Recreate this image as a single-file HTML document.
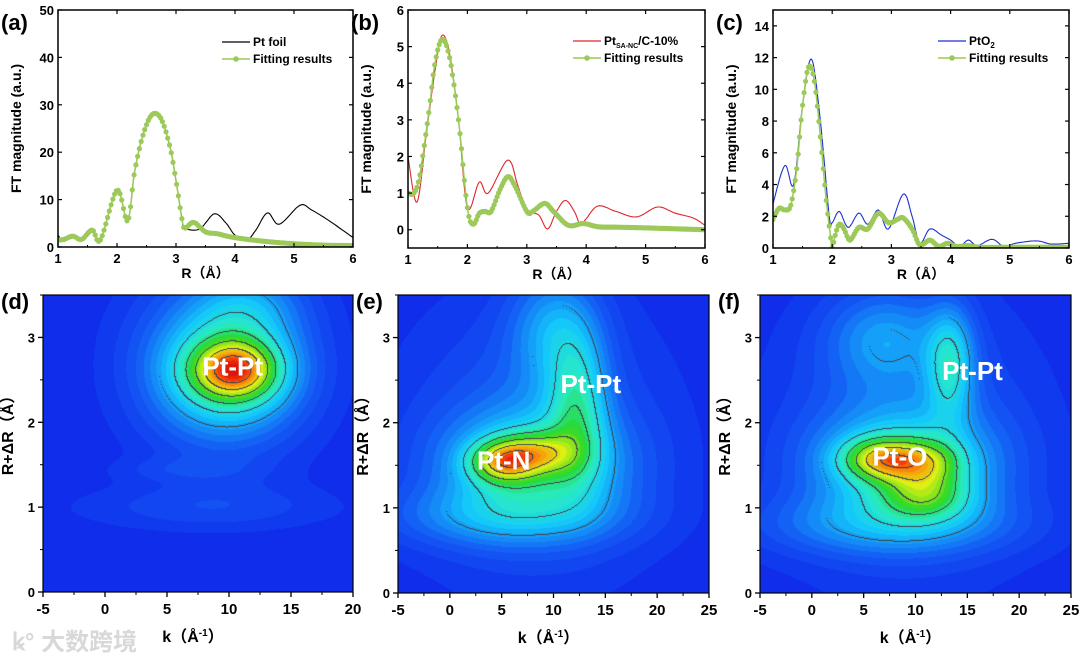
<!DOCTYPE html>
<html><head><meta charset="utf-8">
<style>
html,body{margin:0;padding:0;background:#fff;}
#root{position:relative;width:1080px;height:659px;overflow:hidden;font-family:"Liberation Sans",Arial,sans-serif;}
svg{position:absolute;left:0;top:0;}
canvas{position:absolute;}
.wm{position:absolute;left:12px;top:622px;font-size:24px;color:#d8d8d8;font-family:"Liberation Sans","Noto Sans CJK SC",sans-serif;font-weight:bold;}
</style></head>
<body>
<div id="root">
<canvas id="cd"></canvas>
<canvas id="ce"></canvas>
<canvas id="cf"></canvas>
<svg id="sv" width="1080" height="659"></svg>
<div class="wm">ꝃ° 大数跨境</div>
</div>
<script>
// ---- Panel (a) data ----
const aR = [1.0,1.1,1.25,1.4,1.58,1.72,2.0,2.18,2.3,2.45,2.6,2.75,2.9,3.0,3.1,3.15,3.4,3.65,3.85,4.0,4.2,4.35,4.55,4.75,5.1,5.3,5.6,6.0];
const aFoil = [2.5,1.2,2.3,1.6,3.8,1.5,12,5.5,16,24,28,27,21,14,6,4,3.8,7,5,2.5,1.5,3.5,7.2,4.8,8.8,7.8,5.5,2];
const aFitR = [1.0,1.1,1.25,1.4,1.58,1.72,2.0,2.18,2.3,2.45,2.6,2.75,2.9,3.0,3.1,3.15,3.3,3.5,3.7,3.9,4.1,4.5,5.0,5.5,6.0];
const aFit = [1.5,1.6,2.3,1.6,3.6,1.5,12,5.5,16,24,28,27,21,14,6,4,5.2,3.2,2.8,2.2,1.8,1.2,0.7,0.4,0.3];
// ---- Panel (b) data ----
const bR = [1.0,1.15,1.3,1.45,1.57,1.7,1.85,2.0,2.2,2.35,2.68,2.85,3.0,3.2,3.35,3.5,3.65,3.8,3.9,4.0,4.2,4.5,4.85,5.2,5.5,5.8,6.0];
const bExp = [2.0,0.75,2.5,4.3,5.3,4.8,3.0,0.6,1.3,1.0,1.9,1.2,0.55,0.4,0.02,0.5,0.8,0.5,0.15,0.3,0.65,0.5,0.35,0.62,0.45,0.32,0.12];
const bFitR = [1.0,1.1,1.2,1.35,1.45,1.57,1.7,1.85,2.0,2.1,2.2,2.3,2.4,2.55,2.68,2.8,3.0,3.1,3.3,3.45,3.7,3.95,4.2,4.5,5.0,6.0];
const bFit = [1.0,1.0,1.5,3.2,4.5,5.2,4.7,3.0,0.6,0.15,0.45,0.5,0.5,1.1,1.45,1.2,0.5,0.5,0.72,0.5,0.12,0.17,0.08,0.07,0.05,0.0];
// ---- Panel (c) data ----
const cR = [1.0,1.2,1.35,1.5,1.65,1.8,1.95,2.0,2.12,2.27,2.45,2.6,2.78,2.95,3.2,3.35,3.48,3.65,3.85,4.0,4.15,4.3,4.45,4.7,4.9,5.1,5.45,5.7,6.0];
const cExp = [2.8,5.2,4.0,9,11.9,8,2.0,1.6,2.3,1.3,2.2,1.5,2.4,1.2,3.4,2.0,0.3,1.2,0.8,0.5,0.1,0.5,0.15,0.55,0.1,0.3,0.45,0.25,0.3];
const cFitR = [1.0,1.1,1.2,1.3,1.4,1.5,1.6,1.7,1.8,1.9,1.97,2.0,2.05,2.12,2.2,2.3,2.45,2.6,2.78,2.95,3.1,3.2,3.35,3.48,3.65,3.8,3.95,4.1,4.3,4.5,5.0,6.0];
const cFit = [1.8,2.5,2.4,2.7,5,9,11.4,10.5,7,3,0.8,0,0.8,1.5,1.2,0.5,1.3,1.2,2.2,1.6,1.8,1.9,1.2,0.2,0.5,0.1,0.3,0.1,0.15,0.05,0.05,0.05];
// ---- wavelet blobs: [k, R, amplitude, sigmaK, sigmaR] ----
const dBlobs = [[10.5,2.62,0.42,2.2,0.22],[10,2.6,0.3,3.5,0.4],[9.5,2.7,0.28,5,0.75],[11.5,3.4,0.12,3,0.3],[8,1.0,0.08,8,0.2],[6,1.45,0.05,4,0.1]];
const eBlobs = [[5,1.55,0.42,2.2,0.17],[8.5,1.65,0.28,2.5,0.17],[8,1.5,0.3,6,0.45],[12.3,2.2,0.28,2,0.6],[5,0.9,0.16,8,0.25],[10,3.1,0.2,3,0.5],[8,1.8,0.14,9,1.2]];
const fBlobs = [[6.5,1.58,0.4,2.6,0.17],[11,1.55,0.26,2.5,0.18],[11,1.15,0.26,3,0.2],[13.3,2.7,0.3,1.6,0.45],[9,1.5,0.3,6,0.45],[7,0.8,0.16,9,0.25],[7,3.0,0.18,4,0.4],[9,1.8,0.14,9,1.2]];
const lineTicksA = [0,10,20,30,40,50];
const lineTicksB = [0,1,2,3,4,5,6];
const lineTicksC = [0,2,4,6,8,10,12,14];
const rTicks = [1,2,3,4,5,6];
const kTicksD = [-5,0,5,10,15,20];
const kTicksEF = [-5,0,5,10,15,20,25];
const rdrTicks = [0,1,2,3];

const NS='http://www.w3.org/2000/svg';
const sv=document.getElementById('sv');
function mk(tag,attrs,parent){const e=document.createElementNS(NS,tag);for(const k in attrs)e.setAttribute(k,attrs[k]);(parent||sv).appendChild(e);return e;}
function txt(x,y,s,opt,parent){opt=opt||{};const t=mk('text',{x:x,y:y,'font-size':opt.size||13,'font-weight':opt.w||'bold','text-anchor':opt.anchor||'middle',fill:opt.fill||'#000','font-family':'"Liberation Sans","Noto Sans CJK SC",sans-serif'},parent);if(opt.rot)t.setAttribute('transform','rotate(-90 '+x+' '+y+')');t.textContent=s;return t;}
function dense(xs,ys){const out=[];const n=xs.length;for(let i=0;i<n-1;i++){const x0=xs[Math.max(i-1,0)],x1=xs[i],x2=xs[i+1],x3=xs[Math.min(i+2,n-1)];const y0=ys[Math.max(i-1,0)],y1=ys[i],y2=ys[i+1],y3=ys[Math.min(i+2,n-1)];for(let s=0;s<10;s++){const t=s/10,t2=t*t,t3=t2*t;const f=(a,b,c,d)=>0.5*(2*b+(-a+c)*t+(2*a-5*b+4*c-d)*t2+(-a+3*b-3*c+d)*t3);out.push([f(x0,x1,x2,x3),f(y0,y1,y2,y3)]);}}out.push([xs[n-1],ys[n-1]]);return out;}
function resample(pts,step){const out=[];let target=pts[0][0];for(let i=0;i<pts.length-1;i++){const [xa,ya]=pts[i],[xb,yb]=pts[i+1];while(target<=xb&&xb>xa){const u=(target-xa)/(xb-xa);out.push([target,ya+u*(yb-ya)]);target+=step;}}return out;}

function linePanel(cfg){
  const g=mk('g',{});
  const X=v=>cfg.x0+(v-cfg.xmin)/(cfg.xmax-cfg.xmin)*(cfg.x1-cfg.x0);
  const Y=v=>cfg.y1-(v-cfg.ymin)/(cfg.ymax-cfg.ymin)*(cfg.y1-cfg.y0);
  const clip='clip'+cfg.name;const cp=mk('clipPath',{id:clip},g);mk('rect',{x:cfg.x0,y:cfg.y0,width:cfg.x1-cfg.x0,height:cfg.y1-cfg.y0},cp);
  const d1=dense(cfg.ex,cfg.ey).map(p=>X(p[0]).toFixed(1)+','+Y(Math.max(p[1],cfg.ymin)).toFixed(1)).join(' ');
  const l1=mk('polyline',{points:d1,fill:'none',stroke:cfg.col,'stroke-width':1.1,'clip-path':'url(#'+clip+')'},g);
  
  const dp=dense(cfg.fx,cfg.fy);
  const d2=dp.map(p=>X(p[0]).toFixed(1)+','+Y(p[1]).toFixed(1)).join(' ');
  const fg=mk('g',{'clip-path':'url(#'+clip+')'},g);
  
  mk('polyline',{points:d2,fill:'none',stroke:'#9cc95a','stroke-width':1.5},fg);
  resample(dp,cfg.step).forEach(p=>{const c=mk('circle',{cx:X(p[0]).toFixed(1),cy:Y(p[1]).toFixed(1),r:2.6,fill:'#9cc95a'},fg);
    });
  mk('rect',{x:cfg.x0,y:cfg.y0,width:cfg.x1-cfg.x0,height:cfg.y1-cfg.y0,fill:'none',stroke:'#000','stroke-width':1.5},g);
  cfg.xt.forEach(v=>{const x=X(v);mk('line',{x1:x,x2:x,y1:cfg.y1,y2:cfg.y1-4,stroke:'#000','stroke-width':1.2},g);mk('line',{x1:x,x2:x,y1:cfg.y0,y2:cfg.y0+4,stroke:'#000','stroke-width':1.2},g);
    const t=txt(x,cfg.y1+16,String(v),{size:13},g);});
  for(let v=cfg.xmin+0.5;v<cfg.xmax;v+=1){const x=X(v);mk('line',{x1:x,x2:x,y1:cfg.y1,y2:cfg.y1-2,stroke:'#000'},g);}
  cfg.yt.forEach(v=>{const y=Y(v);mk('line',{x1:cfg.x0,x2:cfg.x0+4,y1:y,y2:y,stroke:'#000','stroke-width':1.2},g);mk('line',{x1:cfg.x1,x2:cfg.x1-4,y1:y,y2:y,stroke:'#000','stroke-width':1.2},g);
    const t=txt(cfg.x0-4,y+5,String(v),{size:13,anchor:'end'},g);});
  const xt=txt((cfg.x0+cfg.x1)/2,cfg.y1+31,'R（Å）',{size:14},g);
  const yt=txt(cfg.x0-37,(cfg.y0+cfg.y1)/2,'FT magnitude (a.u.)',{size:14,rot:true},g);
  const pl=txt(cfg.x0-57,cfg.y0+20,cfg.label,{size:22,anchor:'start'},g);
  const lg=mk('g',{},g);
  const lx=cfg.lx;
  mk('line',{x1:lx,x2:lx+28,y1:cfg.ly,y2:cfg.ly,stroke:cfg.col,'stroke-width':1.2},lg);
  const t1=txt(lx+31,cfg.ly+4,'',{size:12,anchor:'start'},lg);t1.innerHTML=cfg.legend;
  mk('line',{x1:lx,x2:lx+28,y1:cfg.ly+17,y2:cfg.ly+17,stroke:'#9cc95a','stroke-width':1.5},lg);
  mk('circle',{cx:lx+14,cy:cfg.ly+17,r:2.8,fill:'#9cc95a'},lg);
  txt(lx+31,cfg.ly+21,'Fitting results',{size:12,anchor:'start'},lg);
}
linePanel({name:'panel-a',label:'(a)',x0:58,x1:353,y0:10,y1:247,xmin:1,xmax:6,ymin:0,ymax:50,ex:aR,ey:aFoil,fx:aFitR,fy:aFit,col:'#000',xt:rTicks,yt:lineTicksA,lx:222,ly:42,legend:'Pt foil',step:0.03});
linePanel({name:'panel-b',label:'(b)',x0:408,x1:705,y0:10,y1:248,xmin:1,xmax:6,ymin:-0.5,ymax:6,ex:bR,ey:bExp,fx:bFitR,fy:bFit,col:'#e0262a',xt:rTicks,yt:lineTicksB,lx:573,ly:41,legend:'Pt<tspan font-size="7" dy="3">SA-NC</tspan><tspan dy="-3">/C-10%</tspan>',step:0.025});
linePanel({name:'panel-c',label:'(c)',x0:773,x1:1069,y0:10,y1:248,xmin:1,xmax:6,ymin:0,ymax:15,ex:cR,ey:cExp,fx:cFitR,fy:cFit,col:'#1f2fd0',xt:rTicks,yt:lineTicksC,lx:938,ly:41,legend:'PtO<tspan font-size="8" dy="3">2</tspan>',step:0.025});

function jet(v){v=Math.max(0,Math.min(1,v));
  const stops=[[0,[15,45,235]],[0.12,[20,90,245]],[0.3,[20,200,250]],[0.42,[40,235,200]],[0.55,[40,215,40]],[0.7,[220,240,20]],[0.82,[250,150,10]],[0.92,[240,40,10]],[1,[200,10,10]]];
  for(let i=0;i<stops.length-1;i++){const [a,ca]=stops[i],[b,cb]=stops[i+1];if(v<=b){const u=(v-a)/(b-a);return [0,1,2].map(j=>Math.round(ca[j]+u*(cb[j]-ca[j])));}}return stops[stops.length-1][1];}
function heatPanel(cfg){
  const cv=document.getElementById(cfg.cid);const W=cfg.x1-cfg.x0,H=cfg.y1-cfg.y0;
  cv.width=W;cv.height=H;cv.style.left=cfg.x0+'px';cv.style.top=cfg.y0+'px';
  const ctx=cv.getContext('2d');const im=ctx.createImageData(W,H);
  const f=new Float32Array(W*H);
  for(let py=0;py<H;py++){const R=cfg.rmax-py/H*cfg.rmax;for(let px=0;px<W;px++){const k=cfg.kmin+px/W*(cfg.kmax-cfg.kmin);let v=0;
    cfg.blobs.forEach(b=>{const dk=(k-b[0])/b[3],dr=(R-b[1])/b[4];v+=b[2]*Math.exp(-0.5*(dk*dk+dr*dr));});f[py*W+px]=Math.min(v,1);}}
  for(let i=0;i<W*H;i++){const q=Math.floor(f[i]*30)/30;const c=jet(q);let dark=false;const px=i%W;
    const lv=Math.floor(f[i]*8);if(f[i]>0.25){if(px<W-1&&Math.floor(f[i+1]*8)!==lv)dark=true;if(i+W<W*H&&Math.floor(f[i+W]*8)!==lv)dark=true;}
    im.data[i*4]=dark?60:c[0];im.data[i*4+1]=dark?70:c[1];im.data[i*4+2]=dark?80:c[2];im.data[i*4+3]=255;}
  ctx.putImageData(im,0,0);
  const g=mk('g',{});
  const X=v=>cfg.x0+(v-cfg.kmin)/(cfg.kmax-cfg.kmin)*W;const Y=v=>cfg.y1-v/cfg.rmax*H;
  mk('rect',{x:cfg.x0,y:cfg.y0,width:W,height:H,fill:'none',stroke:'#000','stroke-width':1.2},g);
  cfg.kt.forEach(v=>{const x=X(v);mk('line',{x1:x,x2:x,y1:cfg.y1,y2:cfg.y1+5,stroke:'#000','stroke-width':1.3},g);
    const t=txt(x,cfg.y1+22,String(v),{size:15},g);
    if(v+2.5<cfg.kmax){mk('line',{x1:X(v+2.5),x2:X(v+2.5),y1:cfg.y1,y2:cfg.y1+3,stroke:'#000'},g);}});
  rdrTicks.forEach(v=>{const y=Y(v);mk('line',{x1:cfg.x0,x2:cfg.x0-5,y1:y,y2:y,stroke:'#000','stroke-width':1.3},g);
    mk('line',{x1:cfg.x0,x2:cfg.x0-3,y1:Y(v+0.5),y2:Y(v+0.5),stroke:'#000'},g);
    const t=txt(cfg.x0-8,y+5,String(v),{size:13,anchor:'end'},g);});
  const xt=txt((cfg.x0+W/2)-5,cfg.y1+50,'',{size:16},g);xt.innerHTML='k（Å<tspan font-size="10" dy="-6">-1</tspan><tspan dy="6">）</tspan>';
  const yt=txt(cfg.x0-30,(cfg.y0+cfg.y1)/2-12,'R+ΔR（Å）',{size:16,rot:true},g);
  const pl=txt(cfg.x0-42,cfg.y0+14,cfg.label,{size:22,anchor:'start'},g);
  cfg.ann.forEach(a=>{const t=txt(X(a[1]),Y(a[2]),a[0],{size:26,fill:'#fff'},g);});
}
heatPanel({name:'panel-d',cid:'cd',label:'(d)',x0:43,x1:353,y0:295,y1:592,kmin:-5,kmax:20,rmax:3.5,blobs:dBlobs,kt:kTicksD,ann:[['Pt-Pt',10.3,2.55]]});
heatPanel({name:'panel-e',cid:'ce',label:'(e)',x0:398,x1:709,y0:295,y1:593,kmin:-5,kmax:25,rmax:3.5,blobs:eBlobs,kt:kTicksEF,ann:[['Pt-Pt',13.6,2.35],['Pt-N',5.2,1.45]]});
heatPanel({name:'panel-f',cid:'cf',label:'(f)',x0:760,x1:1071,y0:295,y1:593,kmin:-5,kmax:25,rmax:3.5,blobs:fBlobs,kt:kTicksEF,ann:[['Pt-Pt',15.5,2.5],['Pt-O',8.5,1.5]]});
</script>
</body></html>
